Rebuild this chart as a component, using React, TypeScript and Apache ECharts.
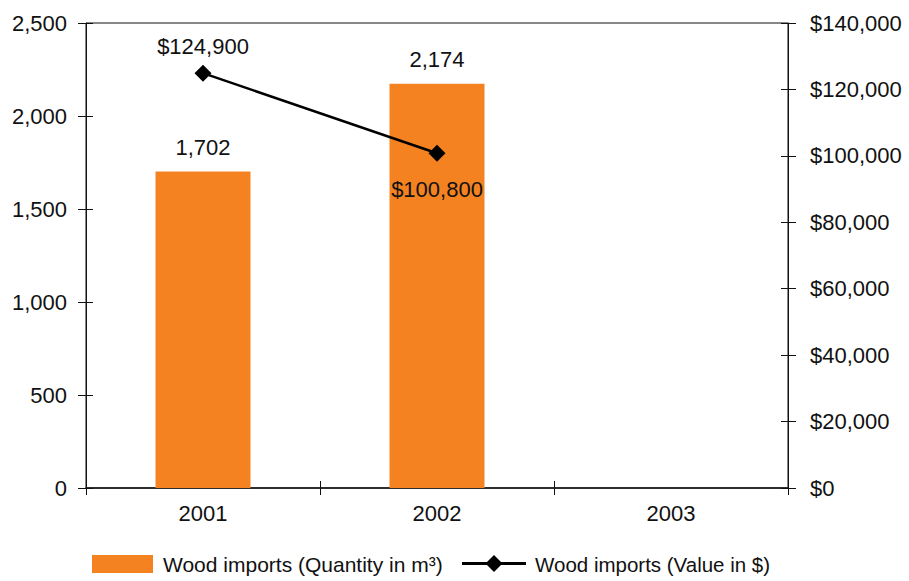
import React, { useEffect, useRef } from "react";
import * as echarts from "echarts";

const categories = ["2001", "2002", "2003"];
const quantityValues: (number | null)[] = [1702, 2174, null];
const valueValues: (number | null)[] = [124900, 100800, null];
const quantityName = "Wood imports (Quantity in m³)";
const valueName = "Wood imports (Value in $)";

const FONT = "'Liberation Sans', Arial, sans-serif";
const INK = "#111";
const ORANGE = "#F58220";

const fmt = (v: number) => v.toLocaleString("en-US");

export default function App() {
  const ref = useRef<HTMLDivElement>(null);
  useEffect(() => {
    if (!ref.current) return;
    const chart = echarts.init(ref.current, undefined, { renderer: "svg" });
    const labelStyle = { color: INK, fontFamily: FONT, fontSize: 22 };
    const legendText = (x: number, text: string, size: number) => ({
      type: "text",
      x,
      y: 564,
      style: {
        text,
        fill: INK,
        fontFamily: FONT,
        fontSize: size,
        align: "left",
        verticalAlign: "middle",
        textAlign: "left",
        textVerticalAlign: "middle",
      },
    });
    chart.setOption({
      animation: false,
      backgroundColor: "#fff",
      textStyle: { fontFamily: FONT },
      grid: {
        left: 86,
        right: 121,
        top: 23,
        bottom: 93,
        show: true,
        borderColor: INK,
        borderWidth: 1,
        backgroundColor: "transparent",
      },
      graphic: [
        { type: "rect", shape: { x: 92, y: 555, width: 61, height: 18 }, style: { fill: ORANGE } },
        legendText(163, quantityName, 21),
        { type: "line", shape: { x1: 462, y1: 563.5, x2: 526, y2: 563.5 }, style: { stroke: "#000", lineWidth: 3 } },
        {
          type: "polygon",
          shape: { points: [[494, 555], [502.5, 563.5], [494, 572], [485.5, 563.5]] },
          style: { fill: "#000" },
        },
        legendText(535, valueName, 20.5),
      ],
      xAxis: [
        {
          type: "category",
          data: categories,
          position: "bottom",
          axisLine: { show: true, lineStyle: { color: INK, width: 1.5 } },
          axisTick: { show: true, alignWithLabel: false, length: 7, lineStyle: { color: INK } },
          axisLabel: { ...labelStyle, margin: 14 },
          splitLine: { show: false },
        },
        {
          type: "category",
          data: categories,
          position: "bottom",
          axisLine: { show: false },
          axisTick: { show: true, inside: true, alignWithLabel: false, length: 7, lineStyle: { color: INK } },
          axisLabel: { show: false },
          splitLine: { show: false },
        },
      ],
      yAxis: [
        {
          type: "value",
          position: "left",
          min: 0,
          max: 2500,
          interval: 500,
          axisLine: { show: true, lineStyle: { color: INK } },
          axisTick: { show: true, length: 8, lineStyle: { color: INK } },
          axisLabel: { ...labelStyle, margin: 19, formatter: (v: number) => fmt(v) },
          splitLine: { show: false },
        },
        {
          type: "value",
          position: "right",
          min: 0,
          max: 140000,
          interval: 20000,
          axisLine: { show: true, lineStyle: { color: INK } },
          axisTick: { show: true, length: 8, lineStyle: { color: INK } },
          axisLabel: { ...labelStyle, margin: 22, formatter: (v: number) => "$" + fmt(v) },
          splitLine: { show: false },
        },
        {
          type: "value",
          position: "left",
          min: 0,
          max: 2500,
          interval: 500,
          axisLine: { show: false },
          axisTick: { show: true, inside: true, length: 7, lineStyle: { color: INK } },
          axisLabel: { show: false },
          splitLine: { show: false },
        },
        {
          type: "value",
          position: "right",
          min: 0,
          max: 140000,
          interval: 20000,
          axisLine: { show: false },
          axisTick: { show: true, inside: true, length: 7, lineStyle: { color: INK } },
          axisLabel: { show: false },
          splitLine: { show: false },
        },
      ],
      series: [
        {
          name: quantityName,
          type: "bar",
          xAxisIndex: 0,
          yAxisIndex: 0,
          data: quantityValues,
          barWidth: 95,
          itemStyle: { color: ORANGE },
          label: {
            show: true,
            position: "top",
            distance: 13,
            ...labelStyle,
            formatter: (p: any) => fmt(p.value),
          },
        },
        {
          name: valueName,
          type: "line",
          xAxisIndex: 0,
          yAxisIndex: 1,
          data: valueValues.map((v, i) => ({
            value: v,
            label: i === 1 ? { position: "bottom", distance: 17 } : { position: "top", distance: 7 },
          })),
          symbol: "diamond",
          symbolSize: 17,
          lineStyle: { color: "#000", width: 2.5 },
          itemStyle: { color: "#000" },
          label: {
            show: true,
            ...labelStyle,
            formatter: (p: any) => "$" + fmt(p.value),
          },
        },
      ],
    });
    return () => chart.dispose();
  }, []);
  return (
    <div
      ref={ref}
      style={{ position: "fixed", left: 0, top: 0, width: 909, height: 581, background: "#fff" }}
    />
  );
}
